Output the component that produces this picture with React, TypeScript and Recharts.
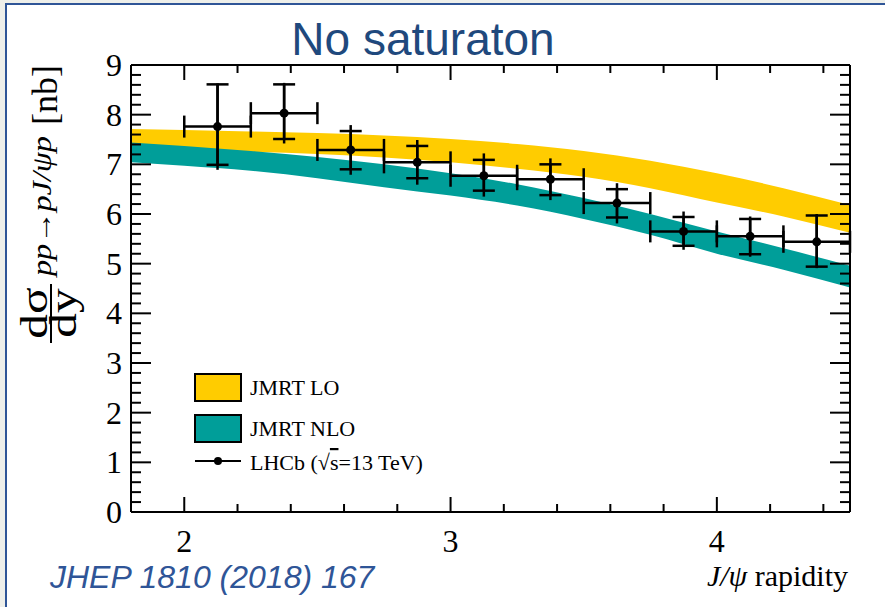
import { ComposedChart, Area, Scatter, ErrorBar, XAxis, YAxis, Customized } from 'recharts';

// JMRT bands (rapidity grid, lower / upper edge in nb)
const bandX = [1.8, 2.0, 2.25, 2.5, 2.75, 3.0, 3.25, 3.5, 3.75, 4.0, 4.25, 4.5];
const loLow = [7.3, 7.28, 7.25, 7.21, 7.14, 7.04, 6.91, 6.75, 6.52, 6.23, 5.95, 5.62];
const loHigh = [7.71, 7.69, 7.66, 7.63, 7.58, 7.51, 7.41, 7.27, 7.07, 6.82, 6.52, 6.18];
const nloLow = [7.04, 6.97, 6.87, 6.72, 6.54, 6.37, 6.17, 5.9, 5.58, 5.2, 4.88, 4.52];
const nloHigh = [7.44, 7.37, 7.27, 7.15, 7.0, 6.82, 6.6, 6.32, 6.0, 5.65, 5.31, 4.96];

// LHCb 13 TeV points
const binCenter = [2.125, 2.375, 2.625, 2.875, 3.125, 3.375, 3.625, 3.875, 4.125, 4.375];
const binHalf = [0.125, 0.125, 0.125, 0.125, 0.125, 0.125, 0.125, 0.125, 0.125, 0.125];
const xsec = [7.76, 8.03, 7.29, 7.04, 6.77, 6.7, 6.22, 5.65, 5.55, 5.44];
const totDown = [0.87, 0.61, 0.5, 0.45, 0.42, 0.42, 0.41, 0.37, 0.41, 0.53];
const totUp = [0.87, 0.61, 0.5, 0.45, 0.45, 0.42, 0.4, 0.4, 0.4, 0.56];
const statDown = [0.77, 0.52, 0.39, 0.32, 0.3, 0.32, 0.29, 0.29, 0.36, 0.5];
const statUp = [0.85, 0.58, 0.38, 0.33, 0.32, 0.3, 0.28, 0.29, 0.35, 0.53];

const xMajor = [2, 3, 4];
const xTicks = [2, 2.2, 2.4, 2.6, 2.8, 3, 3.2, 3.4, 3.6, 3.8, 4, 4.2, 4.4];
const yMajor = [0, 1, 2, 3, 4, 5, 6, 7, 8, 9];
const yTicks = Array.from({ length: 46 }, (_, i) => Math.round(i * 2) / 10);

const bandData = bandX.map((x, i) => ({
  x,
  lo: [loLow[i], loHigh[i]],
  nlo: [nloLow[i], nloHigh[i]],
}));

const points = binCenter.map((x, i) => ({
  x,
  y: xsec[i],
  ex: binHalf[i],
  eTot: [totDown[i], totUp[i]],
  eStat: [statDown[i], statUp[i]],
}));

const SERIF = '"Liberation Serif", "Times New Roman", serif';
const SANS = '"Liberation Sans", Arial, sans-serif';
const YELLOW = '#ffcc00';
const TEAL = '#009e99';

const isMajor = (v: number, list: number[]) => list.some((m) => Math.abs(m - v) < 1e-6);

const BottomTick = (p: any) => {
  const v = p.payload.value;
  const major = isMajor(v, xMajor);
  return (
    <g>
      <line x1={p.x} x2={p.x} y1={p.y} y2={p.y - (major ? 15 : 8)} stroke="#000" strokeWidth={2} />
      {major && (
        <text x={p.x} y={p.y + 40} textAnchor="middle" fontFamily={SERIF} fontSize={32} fill="#000">
          {v}
        </text>
      )}
    </g>
  );
};

const TopTick = (p: any) => {
  const major = isMajor(p.payload.value, xMajor);
  return <line x1={p.x} x2={p.x} y1={p.y} y2={p.y + (major ? 15 : 8)} stroke="#000" strokeWidth={2} />;
};

const LeftTick = (p: any) => {
  const v = p.payload.value;
  const major = isMajor(v, yMajor);
  return (
    <g>
      <line x1={p.x} x2={p.x + (major ? 20 : 10)} y1={p.y} y2={p.y} stroke="#000" strokeWidth={2} />
      {major && (
        <text x={p.x - 9} y={p.y + 11} textAnchor="end" fontFamily={SERIF} fontSize={32} fill="#000">
          {v}
        </text>
      )}
    </g>
  );
};

const RightTick = (p: any) => {
  const major = isMajor(p.payload.value, yMajor);
  return <line x1={p.x} x2={p.x - (major ? 20 : 10)} y1={p.y} y2={p.y} stroke="#000" strokeWidth={2} />;
};

const Dot = (p: any) => <circle cx={p.cx} cy={p.cy} r={4.5} fill="#000" />;

const Decor = () => (
  <g>
    <text x={423} y={55} textAnchor="middle" fontFamily={SANS} fontSize={46} fill="#1f497d">
      No saturaton
    </text>
    <text x={50} y={588} fontFamily={SANS} fontStyle="italic" fontSize={32} fill="#2f5597">
      JHEP 1810 (2018) 167
    </text>
    <text x={848} y={586} textAnchor="end" fontFamily={SERIF} fontSize={30} fill="#000">
      <tspan fontStyle="italic">J/ψ</tspan> rapidity
    </text>

    {/* y axis title, rotated */}
    <g transform="rotate(-90)">
      <text x={-95} y={57} textAnchor="middle" fontFamily={SERIF} fontSize={36} fill="#000">
        [nb]
      </text>
      <text x={-276} y={51} fontFamily={SERIF} fontStyle="italic" fontSize={27} fill="#000"
        textLength={140} lengthAdjust="spacingAndGlyphs">
        pp→pJ/ψp
      </text>
      <text transform="translate(-313,47) scale(1.3,1)" textAnchor="middle" fontFamily={SERIF} fontSize={38} fill="#000">
        dσ
      </text>
      <text transform="translate(-313,76) scale(1.3,1)" textAnchor="middle" fontFamily={SERIF} fontSize={38} fill="#000">
        dy
      </text>
    </g>
    <line x1={51} x2={51} y1={284} y2={343} stroke="#000" strokeWidth={2} />

    {/* legend */}
    <rect x={195} y={374} width={46} height={27} fill={YELLOW} stroke="#000" strokeWidth={2} />
    <text x={250} y={395} fontFamily={SERIF} fontSize={22} fill="#000">JMRT LO</text>
    <rect x={195} y={415} width={46} height={27} fill={TEAL} stroke="#000" strokeWidth={2} />
    <text x={250} y={436} fontFamily={SERIF} fontSize={22} fill="#000">JMRT NLO</text>
    <line x1={195} x2={241} y1={461} y2={461} stroke="#000" strokeWidth={2} />
    <circle cx={218} cy={461} r={4} fill="#000" />
    <text x={250} y={470} fontFamily={SERIF} fontSize={22} fill="#000">
      LHCb (√<tspan textDecoration="overline">s</tspan>=13 TeV)
    </text>
  </g>
);

export default function App() {
  return (
    <div style={{ position: 'absolute', left: 0, top: 0, width: 885, height: 607, background: '#eeefea', overflow: 'hidden' }}>
      <div
        style={{
          position: 'absolute',
          left: 5,
          top: 3,
          width: 880,
          height: 604,
          background: '#fff',
          borderTop: '2px solid #2f5597',
          borderLeft: '2px solid #2f5597',
        }}
      />
      <div style={{ position: 'absolute', left: 0, top: 0 }}>
        <ComposedChart width={885} height={607} data={bandData} margin={{ top: 64, right: 34, bottom: 94, left: 130 }}>
          <XAxis xAxisId="b" dataKey="x" type="number" domain={[1.8, 4.5]} ticks={xTicks} interval={0}
            height={1} tickSize={0} tickMargin={0} tick={<BottomTick />} tickLine={false}
            axisLine={{ stroke: '#000', strokeWidth: 2 }} allowDataOverflow />
          <XAxis xAxisId="t" dataKey="x" orientation="top" type="number" domain={[1.8, 4.5]} ticks={xTicks} interval={0}
            height={1} tickSize={0} tickMargin={0} tick={<TopTick />} tickLine={false}
            axisLine={{ stroke: '#000', strokeWidth: 2 }} allowDataOverflow />
          <YAxis yAxisId="l" type="number" domain={[0, 9]} ticks={yTicks} interval={0}
            width={1} tickSize={0} tickMargin={0} tick={<LeftTick />} tickLine={false}
            axisLine={{ stroke: '#000', strokeWidth: 2 }} allowDataOverflow />
          <YAxis yAxisId="r" orientation="right" type="number" domain={[0, 9]} ticks={yTicks} interval={0}
            width={1} tickSize={0} tickMargin={0} tick={<RightTick />} tickLine={false}
            axisLine={{ stroke: '#000', strokeWidth: 2 }} allowDataOverflow />

          <Area xAxisId="b" yAxisId="l" dataKey="lo" type="monotone" stroke="none" fill={YELLOW} fillOpacity={1} isAnimationActive={false} />
          <Area xAxisId="b" yAxisId="l" dataKey="nlo" type="monotone" stroke="none" fill={TEAL} fillOpacity={1} isAnimationActive={false} />

          <Scatter xAxisId="b" yAxisId="l" data={points} dataKey="y" shape={<Dot />} isAnimationActive={false}>
            <ErrorBar dataKey="eTot" direction="y" width={0} stroke="#000" strokeWidth={2.5} isAnimationActive={false} />
            <ErrorBar dataKey="eStat" direction="y" width={11} stroke="#000" strokeWidth={2.5} isAnimationActive={false} />
            <ErrorBar dataKey="ex" direction="x" width={11} stroke="#000" strokeWidth={2.5} isAnimationActive={false} />
          </Scatter>
          <Customized component={<Decor />} />
        </ComposedChart>
      </div>
    </div>
  );
}
